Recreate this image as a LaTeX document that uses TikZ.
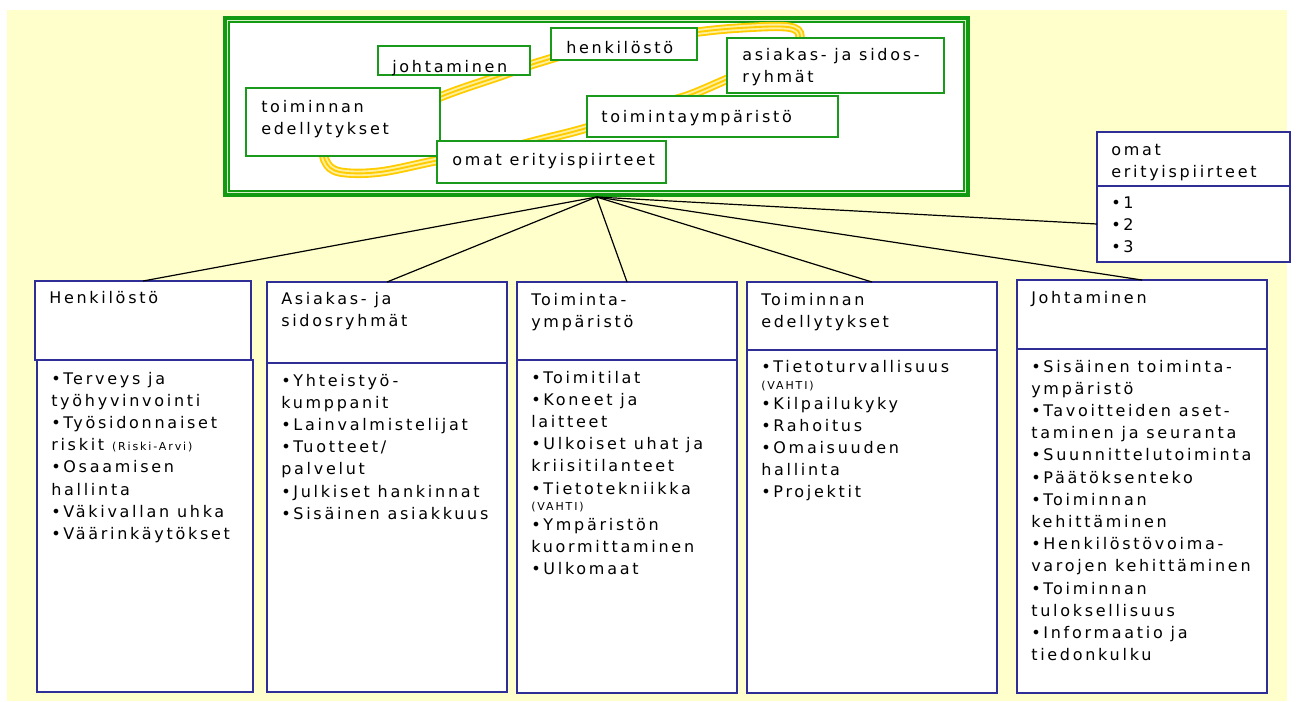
\documentclass[tikz,border=0pt]{standalone}
\usepackage{fontspec}
\setmainfont{DejaVu Sans}[LetterSpace=17]
\usetikzlibrary{calc}
\definecolor{bgyellow}{HTML}{FFFFCC}
\definecolor{framegreen}{HTML}{139A13}
\definecolor{framepale}{HTML}{D8F0C8}
\definecolor{boxgreen}{HTML}{1A9A1A}
\definecolor{navy}{HTML}{2E2E96}
\definecolor{ribbongold}{HTML}{FFCC00}
\definecolor{ribbonlight}{HTML}{FFF0A0}
\newcommand\smallnote[1]{{\fontsize{8.25}{10}\selectfont #1}}
\begin{document}
\begin{tikzpicture}[x=0.75pt,y=-0.75pt,
  wh/.style 2 args={minimum width=#1*0.75pt, minimum height=#2*0.75pt},
  pane/.style={draw=navy, line width=1.1pt, fill=white, anchor=north west, inner sep=0pt, outer sep=0pt},
  tag/.style={draw=boxgreen, line width=1.5pt, fill=white, anchor=north west, inner sep=0pt, outer sep=0pt},
  txt/.style={anchor=base west, align=left, inner sep=0pt, font=\fontsize{12}{16.65}\selectfont},
  conn/.style={draw=black, line width=0.9pt}]
\useasboundingbox (0,0) rectangle (1301,701);
\fill[bgyellow] (7,10) rectangle (1287,701);

% framed overview panel with its double green border
\node[anchor=north west, fill=framegreen, wh={747}{181}, inner sep=0pt, outer sep=0pt] (frame) at (223,16) {};
\fill[framepale] ($(frame.north west)+(4,4)$) rectangle ($(frame.south east)+(-4,-4)$);
\fill[framegreen] ($(frame.north west)+(5,5)$) rectangle ($(frame.south east)+(-5,-5)$);
\fill[white] ($(frame.north west)+(7,7)$) rectangle ($(frame.south east)+(-7,-7)$);

% golden ribbon running behind the labels
\foreach \w/\c in {7pt/ribbongold, 4.2pt/ribbonlight, 1.4pt/ribbongold}{
  \draw[\c, line width=\w] plot[smooth cycle, tension=0.6] coordinates {
    (330,150) (326,162) (340,172) (380,172) (440,160) (480,155) (540,140)
    (590,127) (660,104) (690,95) (730,78) (790,52) (800,36) (788,27)
    (740,28) (690,33) (600,46) (540,62) (500,76) (440,97) (380,125)};
}

% labels on the ribbon (multi-line texts are placed by their last baseline)
\node[tag, wh={146}{32}] (tHenk) at (551,28) {};
\node[txt] (tHenkT) at (566,53) {henkilöstö};
\node[tag, wh={152}{29}] (tJoht) at (378,46) {};
\node[txt] (tJohtT) at (392,72) {johtaminen};
\node[tag, wh={217}{55}] (tAsia) at (727,38) {};
\node[txt] (tAsiaT) at (742,82.2) {asiakas- ja sidos-\\ryhmät};
\node[tag, wh={194}{68}] (tEdel) at (246,88) {};
\node[txt] (tEdelT) at (261,134.2) {toiminnan\\edellytykset};
\node[tag, wh={251}{41}] (tYmp) at (587,96) {};
\node[txt] (tYmpT) at (601,122) {toimintaympäristö};
\node[tag, wh={229}{42}] (tOmat) at (437,141) {};
\node[txt] (tOmatT) at (452,165) {omat erityispiirteet};

% category columns
\node[pane, wh={216}{79}] (h1) at (35,281) {};
\node[pane, wh={216}{332}] (b1) at (37,360) {};
\node[pane, wh={240}{81}] (h2) at (267,282) {};
\node[pane, wh={240}{329}] (b2) at (267,363) {};
\node[pane, wh={220}{78}] (h3) at (517,282) {};
\node[pane, wh={220}{333}] (b3) at (517,360) {};
\node[pane, wh={250}{68}] (h4) at (747,282) {};
\node[pane, wh={250}{343}] (b4) at (747,350) {};
\node[pane, wh={250}{69}] (h5) at (1017,280) {};
\node[pane, wh={250}{344}] (b5) at (1017,349) {};
\node[pane, wh={193}{54}] (h6) at (1097,132) {};
\node[pane, wh={193}{76}] (b6) at (1097,186) {};

\node[txt] (h1t) at (49,303) {Henkilöstö};
\node[txt] (b1t) at (51,539.4) {•Terveys ja\\työhyvinvointi\\•Työsidonnaiset\\riskit \smallnote{(Riski-Arvi)}\\•Osaamisen\\hallinta\\•Väkivallan uhka\\•Väärinkäytökset};

\node[txt] (h2t) at (281,326.2) {Asiakas- ja\\sidosryhmät};
\node[txt] (b2t) at (281,519.2) {•Yhteistyö-\\kumppanit\\•Lainvalmistelijat\\•Tuotteet/\\palvelut\\•Julkiset hankinnat\\•Sisäinen asiakkuus};

\node[txt] (h3t) at (531,327.2) {Toiminta-\\ympäristö};
\node[txt] (b3t) at (531,574.4) {•Toimitilat\\•Koneet ja\\laitteet\\•Ulkoiset uhat ja\\kriisitilanteet\\•Tietotekniikka\\[-4.65pt]\smallnote{(VAHTI)}\\[-1.65pt]•Ympäristön\\kuormittaminen\\•Ulkomaat};

\node[txt] (h4t) at (761,327.2) {Toiminnan\\edellytykset};
\node[txt] (b4t) at (761,497.8) {•Tietoturvallisuus\\[-3.9pt]\smallnote{(VAHTI)}\\[-1.65pt]•Kilpailukyky\\•Rahoitus\\•Omaisuuden\\hallinta\\•Projektit};

\node[txt] (h5t) at (1031,303) {Johtaminen};
\node[txt] (b5t) at (1031,660.6) {•Sisäinen toiminta-\\ympäristö\\•Tavoitteiden aset-\\taminen ja seuranta\\•Suunnittelutoiminta\\•Päätöksenteko\\•Toiminnan\\kehittäminen\\•Henkilöstövoima-\\varojen kehittäminen\\•Toiminnan\\tuloksellisuus\\•Informaatio ja\\tiedonkulku};

\node[txt] (h6t) at (1111,177.2) {omat\\erityispiirteet};
\node[txt] (b6t) at (1111,252.4) {•1\\•2\\•3};

% connectors from the overview panel
\draw[conn] (frame.south) -- (h1.north);
\draw[conn] (frame.south) -- (h2.north);
\draw[conn] (frame.south) -- (h3.north);
\draw[conn] (frame.south) -- (h4.north);
\draw[conn] (frame.south) -- (h5.north);
\draw[conn] (frame.south) -- (b6.west);
\end{tikzpicture}
\end{document}
